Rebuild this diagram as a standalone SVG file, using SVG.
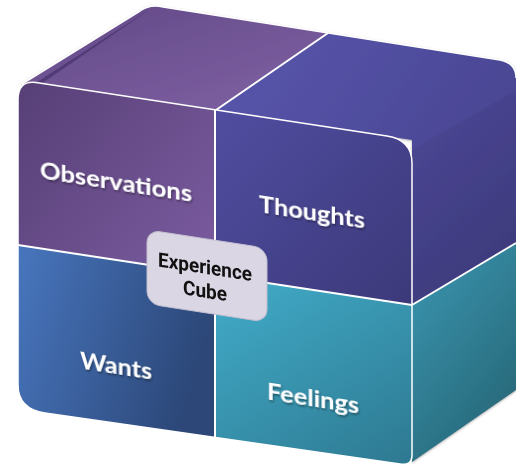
<svg xmlns="http://www.w3.org/2000/svg" width="516" height="467" viewBox="0 0 516 467">
  <defs>
    <linearGradient id="gTopL" x1="0" y1="0" x2="1" y2="1">
      <stop offset="0" stop-color="#624887"/>
      <stop offset="1" stop-color="#8062a3"/>
    </linearGradient>
    <linearGradient id="gTopR" x1="0" y1="0" x2="1" y2="0.6">
      <stop offset="0" stop-color="#5856ad"/>
      <stop offset="1" stop-color="#48448f"/>
    </linearGradient>
    <linearGradient id="gRightT" x1="0" y1="0" x2="0.4" y2="1">
      <stop offset="0" stop-color="#4b4794"/>
      <stop offset="1" stop-color="#3a3777"/>
    </linearGradient>
    <linearGradient id="gRightB" x1="0" y1="0" x2="0.6" y2="1">
      <stop offset="0" stop-color="#3a98b3"/>
      <stop offset="1" stop-color="#286879"/>
    </linearGradient>
    <linearGradient id="gObs" x1="0" y1="0" x2="1" y2="1">
      <stop offset="0" stop-color="#4e386c"/>
      <stop offset="1" stop-color="#7b5ca0"/>
    </linearGradient>
    <linearGradient id="gTho" x1="0" y1="0" x2="1" y2="1">
      <stop offset="0" stop-color="#5653ab"/>
      <stop offset="1" stop-color="#35326e"/>
    </linearGradient>
    <linearGradient id="gWan" x1="0" y1="0" x2="1" y2="0.3">
      <stop offset="0" stop-color="#4a7ac4"/>
      <stop offset="1" stop-color="#2c4778"/>
    </linearGradient>
    <linearGradient id="gFee" x1="0" y1="0" x2="1" y2="1">
      <stop offset="0" stop-color="#42adca"/>
      <stop offset="1" stop-color="#296d84"/>
    </linearGradient>
    <clipPath id="frontClip">
      <path d="M18,100 Q18,80 36,82.5 L387,136 Q412,140 412,163 L412,455 Q412,466 400,464 L45,413 Q18,409 18,385 Z"/>
    </clipPath>
    <filter id="ts" x="-20%" y="-40%" width="140%" height="180%">
      <feDropShadow dx="1" dy="1.5" stdDeviation="1" flood-color="#000" flood-opacity="0.45"/>
    </filter>
    <filter id="bs" x="-10%" y="-10%" width="120%" height="120%">
      <feDropShadow dx="0" dy="1" stdDeviation="1.2" flood-color="#555" flood-opacity="0.5"/>
    </filter>
  </defs>
  <style>
    .lbl { font-family: Lato, "Open Sans", "DejaVu Sans", sans-serif; font-weight: 700; fill: #ffffff; text-anchor: middle; }
    .ctr { font-family: Roboto, "Liberation Sans", sans-serif; font-weight: 700; fill: #111111; text-anchor: middle; }
    .div { stroke: #ffffff; stroke-width: 2; fill: none; }
    .edge { stroke: #ffffff; stroke-width: 1.5; fill: none; }
  </style>

  <!-- back: top and right faces -->
  <g id="top-right-faces" filter="url(#bs)">
    <path d="M22,84 L140,11 Q150,4 163,7 L328,33 L216,110 Z" fill="url(#gTopL)"/>
    <polygon points="34,84 144,13 149,10 38,86" fill="#4a3570" opacity="0.8"/>
    <path d="M216,110 L328,33 L500,60 Q516,63 516,78 L516,243 L412,305 L412,140 Z" fill="url(#gTopR)"/>
    <path d="M412,150 L516,90 L516,243 L412,305 Z" fill="url(#gRightT)" opacity="0.75"/>
    <path d="M412,305 L516,243 L516,390 L412,462 Z" fill="url(#gRightB)"/>
    <path d="M22,84 L140,11 Q150,4 163,7 L500,60 Q516,63 516,78" class="edge"/>
    <line x1="216" y1="110" x2="328" y2="33" class="div"/>
    <line x1="412" y1="305" x2="516" y2="243" class="div"/>
  </g>

  <!-- front face -->
  <g id="front-face">
    <g clip-path="url(#frontClip)">
      <polygon id="obs-panel" points="0,0 215,0 215,275 0,242" fill="url(#gObs)"/>
      <polygon id="tho-panel" points="215,0 516,0 516,321 215,275" fill="url(#gTho)"/>
      <polygon id="wan-panel" points="0,242 215,275 215,467 0,467" fill="url(#gWan)"/>
      <polygon id="fee-panel" points="215,275 516,321 516,467 215,467" fill="url(#gFee)"/>
    </g>
    <path d="M18,100 Q18,80 36,82.5 L387,136 Q412,140 412,163 L412,455 Q412,466 400,464 L45,413 Q18,409 18,385 Z" class="edge"/>
  </g>

  <g id="connectors">
    <line x1="215" y1="110" x2="215" y2="438" class="div"/>
    <line x1="18" y1="245" x2="412" y2="305" class="div"/>
  </g>

  <g id="observations" transform="skewY(8.8)">
    <text class="lbl" x="116" y="172" font-size="23" textLength="152" lengthAdjust="spacingAndGlyphs" filter="url(#ts)">Observations</text>
  </g>
  <g id="thoughts" transform="skewY(8.8)">
    <text class="lbl" x="312" y="172" font-size="23" textLength="106" lengthAdjust="spacingAndGlyphs" filter="url(#ts)">Thoughts</text>
  </g>
  <g id="wants" transform="skewY(8.8)">
    <text class="lbl" x="116" y="356" font-size="23" textLength="72" lengthAdjust="spacingAndGlyphs" filter="url(#ts)">Wants</text>
  </g>
  <g id="feelings" transform="skewY(8.8)">
    <text class="lbl" x="313" y="358.5" font-size="23" textLength="92" lengthAdjust="spacingAndGlyphs" filter="url(#ts)">Feelings</text>
  </g>

  <g id="experience-cube" transform="skewY(8.8)">
    <rect x="147" y="207" width="120" height="74" rx="13" ry="13" fill="#dad6e4" stroke="#c2bed0" stroke-width="1"/>
    <text class="ctr" x="205" y="242" font-size="20" textLength="94" lengthAdjust="spacingAndGlyphs">Experience</text>
    <text class="ctr" x="205" y="266" font-size="20" textLength="44" lengthAdjust="spacingAndGlyphs">Cube</text>
  </g>
</svg>
